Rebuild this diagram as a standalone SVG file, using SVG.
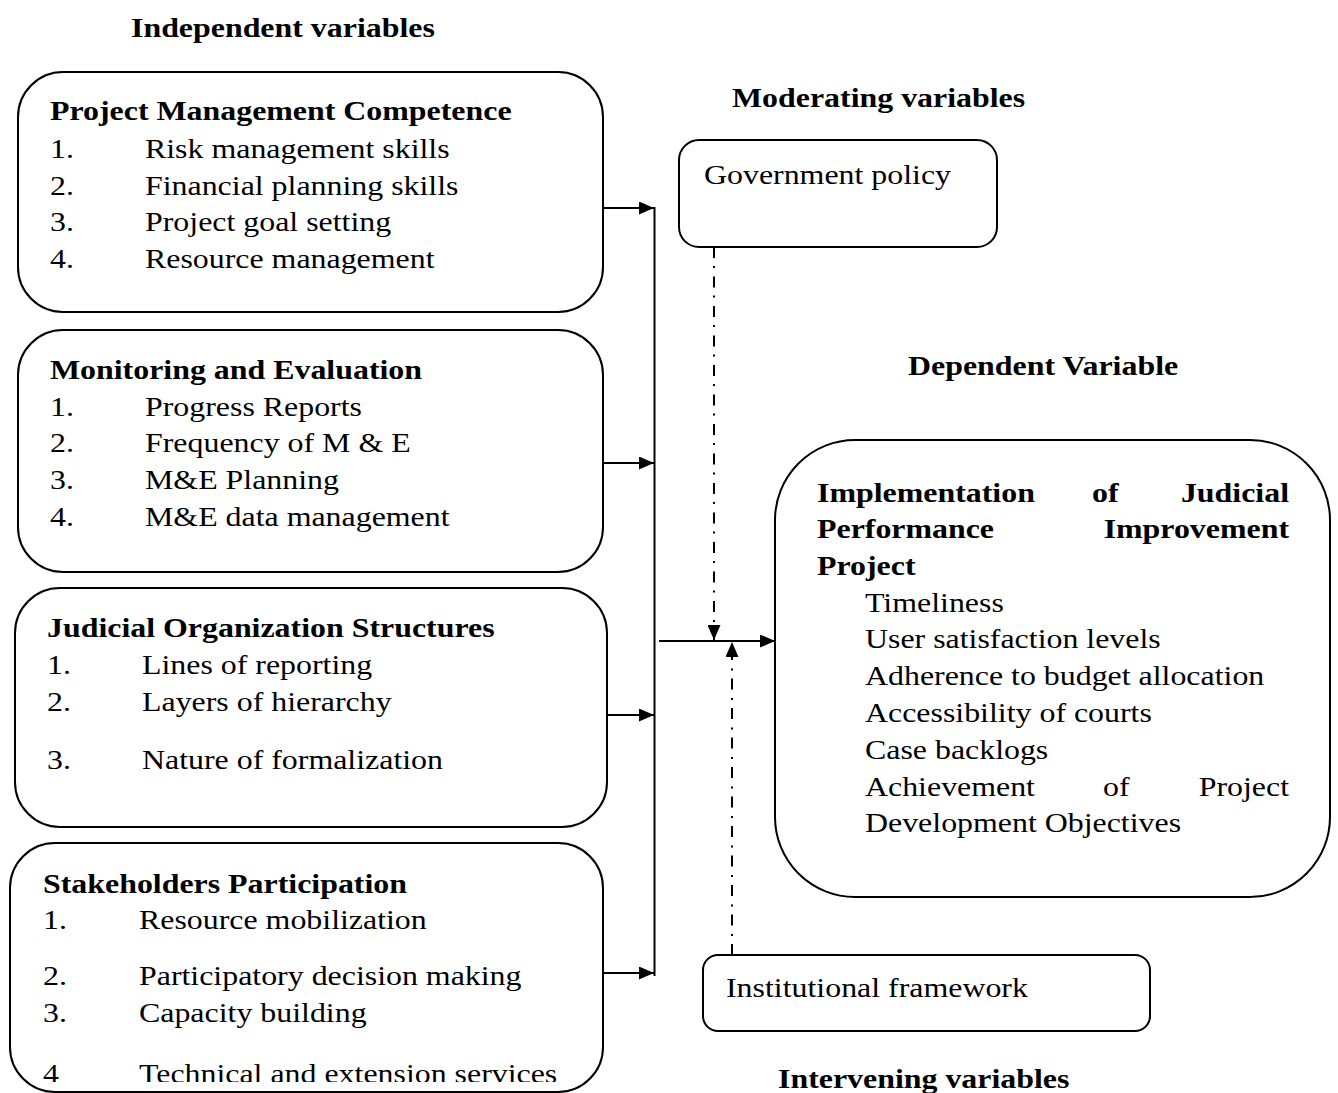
<svg xmlns="http://www.w3.org/2000/svg" width="1338" height="1093" viewBox="0 0 1338 1093">
<style>
.t{font-family:"Liberation Serif","Times New Roman",serif;font-size:27.5px;fill:#000}
.b{font-weight:bold}
.box{fill:#fff;stroke:#000;stroke-width:2}
.ln{stroke:#000;stroke-width:2;fill:none}
.dd{stroke:#000;stroke-width:2;fill:none;stroke-dasharray:11 8 2 8.5}
</style>
<defs>
<marker id="ah" markerUnits="userSpaceOnUse" markerWidth="15" markerHeight="13" refX="15" refY="6.5" orient="auto">
<path d="M0,0 L15,6.5 L0,13 z" fill="#000"/>
</marker>
<clipPath id="clipBottom"><rect x="0" y="0" width="1338" height="1082"/></clipPath>
</defs>
<rect width="1338" height="1093" fill="#fff"/>

<g id="labels">
<text class="t b" transform="matrix(1.16 0 0 1 131 37)">Independent variables</text>
<text class="t b" transform="matrix(1.16 0 0 1 732 107)">Moderating variables</text>
<text class="t b" transform="matrix(1.16 0 0 1 908 375)">Dependent Variable</text>
<text class="t b" transform="matrix(1.16 0 0 1 778 1088)">Intervening variables</text>
</g>

<g id="node-pmc">
<rect class="box" x="18" y="72" width="585" height="240" rx="45"/>
<text class="t b" transform="matrix(1.16 0 0 1 50 120)">Project Management Competence</text>
<text class="t" transform="matrix(1.16 0 0 1 50 158)">1.</text>
<text class="t" transform="matrix(1.16 0 0 1 145 158)">Risk management skills</text>
<text class="t" transform="matrix(1.16 0 0 1 50 195)">2.</text>
<text class="t" transform="matrix(1.16 0 0 1 145 195)">Financial planning skills</text>
<text class="t" transform="matrix(1.16 0 0 1 50 231)">3.</text>
<text class="t" transform="matrix(1.16 0 0 1 145 231)">Project goal setting</text>
<text class="t" transform="matrix(1.16 0 0 1 50 268)">4.</text>
<text class="t" transform="matrix(1.16 0 0 1 145 268)">Resource management</text>
</g>

<g id="node-me">
<rect class="box" x="18" y="330" width="585" height="242" rx="45"/>
<text class="t b" transform="matrix(1.16 0 0 1 50 379)">Monitoring and Evaluation</text>
<text class="t" transform="matrix(1.16 0 0 1 50 416)">1.</text>
<text class="t" transform="matrix(1.16 0 0 1 145 416)">Progress Reports</text>
<text class="t" transform="matrix(1.16 0 0 1 50 452)">2.</text>
<text class="t" transform="matrix(1.16 0 0 1 145 452)">Frequency of M &amp; E</text>
<text class="t" transform="matrix(1.16 0 0 1 50 489)">3.</text>
<text class="t" transform="matrix(1.16 0 0 1 145 489)">M&amp;E Planning</text>
<text class="t" transform="matrix(1.16 0 0 1 50 526)">4.</text>
<text class="t" transform="matrix(1.16 0 0 1 145 526)">M&amp;E data management</text>
</g>

<g id="node-jos">
<rect class="box" x="15" y="588" width="592" height="239" rx="45"/>
<text class="t b" transform="matrix(1.16 0 0 1 47 637)">Judicial Organization Structures</text>
<text class="t" transform="matrix(1.16 0 0 1 47 674)">1.</text>
<text class="t" transform="matrix(1.16 0 0 1 142 674)">Lines of reporting</text>
<text class="t" transform="matrix(1.16 0 0 1 47 711)">2.</text>
<text class="t" transform="matrix(1.16 0 0 1 142 711)">Layers of hierarchy</text>
<text class="t" transform="matrix(1.16 0 0 1 47 769)">3.</text>
<text class="t" transform="matrix(1.16 0 0 1 142 769)">Nature of formalization</text>
</g>

<g id="node-sp">
<rect class="box" x="10" y="843" width="593" height="249" rx="45"/>
<text class="t b" transform="matrix(1.16 0 0 1 43 893)">Stakeholders Participation</text>
<text class="t" transform="matrix(1.16 0 0 1 43 929)">1.</text>
<text class="t" transform="matrix(1.16 0 0 1 139 929)">Resource mobilization</text>
<text class="t" transform="matrix(1.16 0 0 1 43 985)">2.</text>
<text class="t" transform="matrix(1.16 0 0 1 139 985)">Participatory decision making</text>
<text class="t" transform="matrix(1.16 0 0 1 43 1022)">3.</text>
<text class="t" transform="matrix(1.16 0 0 1 139 1022)">Capacity building</text>
<g clip-path="url(#clipBottom)">
<text class="t" transform="matrix(1.16 0 0 1 43 1083)">4</text>
<text class="t" transform="matrix(1.16 0 0 1 139 1083)">Technical and extension services</text>
</g>
</g>

<g id="node-gov">
<rect class="box" x="679" y="140" width="318" height="107" rx="20"/>
<text class="t" transform="matrix(1.16 0 0 1 704 184)">Government policy</text>
</g>

<g id="node-inst">
<rect class="box" x="703" y="955" width="447" height="76" rx="15"/>
<text class="t" transform="matrix(1.16 0 0 1 726 997)">Institutional framework</text>
</g>

<g id="node-dep">
<rect class="box" x="775" y="440" width="555" height="457" rx="80"/>
<text class="t b" transform="matrix(1.16 0 0 1 817 502)">Implementation</text>
<text class="t b" transform="matrix(1.16 0 0 1 1092 502)">of</text>
<text class="t b" text-anchor="end" transform="matrix(1.16 0 0 1 1289 502)">Judicial</text>
<text class="t b" transform="matrix(1.16 0 0 1 817 538)">Performance</text>
<text class="t b" text-anchor="end" transform="matrix(1.16 0 0 1 1289 538)">Improvement</text>
<text class="t b" transform="matrix(1.16 0 0 1 817 575)">Project</text>
<text class="t" transform="matrix(1.16 0 0 1 865 612)">Timeliness</text>
<text class="t" transform="matrix(1.16 0 0 1 865 648)">User satisfaction levels</text>
<text class="t" transform="matrix(1.16 0 0 1 865 685)">Adherence to budget allocation</text>
<text class="t" transform="matrix(1.16 0 0 1 865 722)">Accessibility of courts</text>
<text class="t" transform="matrix(1.16 0 0 1 865 759)">Case backlogs</text>
<text class="t" transform="matrix(1.16 0 0 1 865 796)">Achievement</text>
<text class="t" transform="matrix(1.16 0 0 1 1103 796)">of</text>
<text class="t" text-anchor="end" transform="matrix(1.16 0 0 1 1289 796)">Project</text>
<text class="t" transform="matrix(1.16 0 0 1 865 832)">Development Objectives</text>
</g>

<g id="connectors">
<line class="ln" x1="654.5" y1="207" x2="654.5" y2="976"/>
<line class="ln" x1="603" y1="208" x2="654" y2="208" marker-end="url(#ah)"/>
<line class="ln" x1="603" y1="463" x2="654" y2="463" marker-end="url(#ah)"/>
<line class="ln" x1="607" y1="715" x2="654" y2="715" marker-end="url(#ah)"/>
<line class="ln" x1="603" y1="973" x2="654" y2="973" marker-end="url(#ah)"/>
<line class="ln" x1="659" y1="641" x2="775" y2="641" marker-end="url(#ah)"/>
<line class="dd" x1="714" y1="247" x2="714" y2="640" marker-end="url(#ah)"/>
<line class="dd" x1="732" y1="955" x2="732" y2="642" marker-end="url(#ah)"/>
</g>
</svg>
